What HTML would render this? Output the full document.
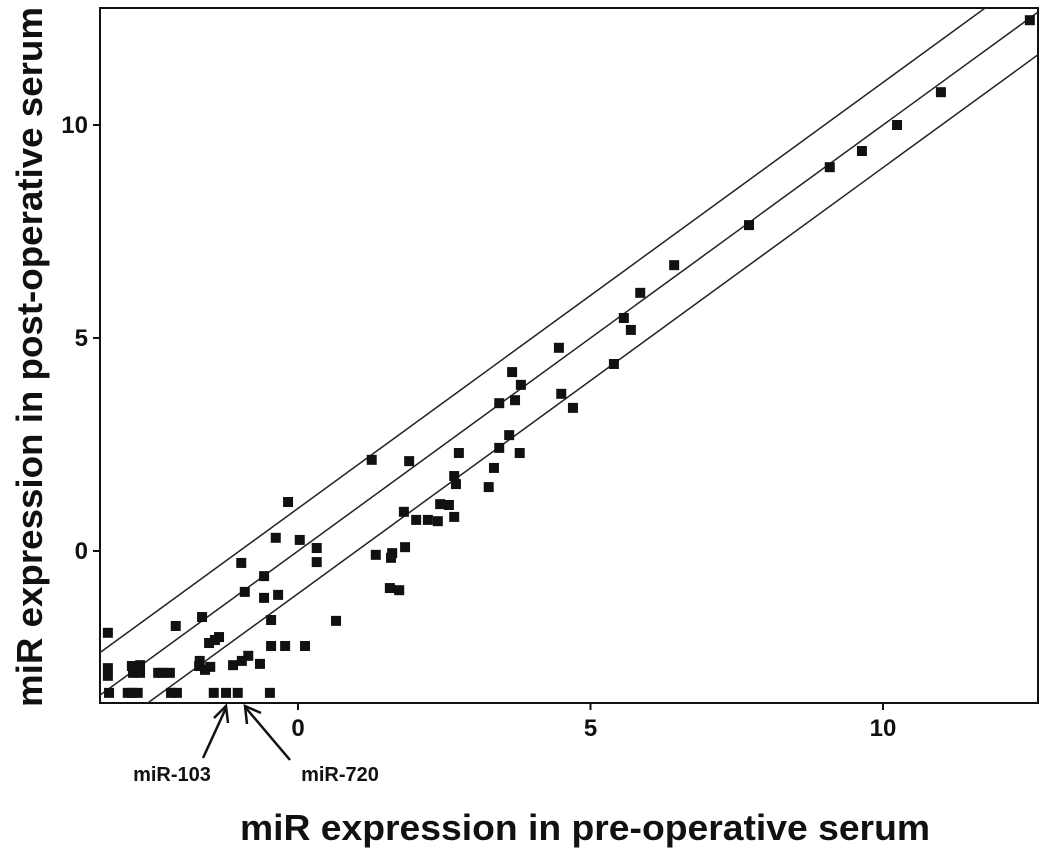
<!DOCTYPE html>
<html><head><meta charset="utf-8"><style>
html,body{margin:0;padding:0;background:#fff;}
svg text{font-family:"Liberation Sans",Arial,sans-serif;font-weight:bold;fill:#111;}
</style></head><body>
<svg id="chart" width="1049" height="850" viewBox="0 0 1049 850" xmlns="http://www.w3.org/2000/svg">
<rect x="100" y="8" width="938" height="695" fill="#fff" stroke="#111" stroke-width="2"/>
<g id="lines"></g>
<g id="points"></g>
<g id="ticks"></g>
<text transform="translate(42,357) rotate(-90)" text-anchor="middle" font-size="36" textLength="700" lengthAdjust="spacingAndGlyphs">miR expression in post-operative serum</text>
<text x="585" y="840" text-anchor="middle" font-size="36" textLength="690" lengthAdjust="spacingAndGlyphs">miR expression in pre-operative serum</text>
<text x="172" y="781" text-anchor="middle" font-size="20">miR-103</text>
<text x="340" y="781" text-anchor="middle" font-size="20">miR-720</text>
<g stroke="#111" stroke-width="2.5" fill="none">
<line x1="203" y1="758" x2="226" y2="708"/><polyline points="214,718 226,706 228,723"/>
</g>
<g stroke="#111" stroke-width="2.5" fill="none">
<line x1="290" y1="760" x2="246" y2="708"/><polyline points="247,724 245,706 261,713"/>
</g>
</svg>
<script>
const xs=[12.51,10.99,10.24,9.64,9.09,7.71,6.43,5.85,5.57,5.69,4.46,5.40,4.50,4.70,3.66,3.81,3.71,3.44,3.61,3.44,3.79,3.35,3.26,2.75,2.67,2.70,2.67,2.58,2.43,2.39,2.22,2.02,1.90,1.81,1.83,1.61,1.59,1.57,1.73,1.33,1.26,0.65,0.32,0.32,0.03,0.12,-0.17,-0.38,-0.34,-0.22,-0.46,-0.46,-0.58,-0.58,-0.65,-0.48,-0.91,-0.85,-0.96,-0.97,-1.03,-1.23,-1.44,-1.11,-1.35,-1.42,-1.52,-1.50,-1.59,-1.64,-1.68,-1.69,-2.09,-2.07,-2.17,-2.19,-2.32,-2.39,-2.70,-2.70,-2.74,-2.84,-2.91,-2.82,-2.84,-3.23,-3.25,-3.25,-3.25];
const ys=[12.46,10.77,10.0,9.39,9.01,7.65,6.71,6.06,5.47,5.19,4.77,4.39,3.69,3.36,4.20,3.90,3.54,3.47,2.72,2.42,2.30,1.95,1.50,2.30,1.76,1.57,0.80,1.08,1.10,0.70,0.73,0.73,2.11,0.92,0.09,-0.05,-0.16,-0.87,-0.92,-0.09,2.14,-1.64,0.07,-0.26,0.26,-2.23,1.15,0.31,-1.03,-2.23,-2.23,-1.62,-0.59,-1.10,-2.65,-3.33,-0.96,-2.46,-2.58,-0.28,-3.33,-3.33,-3.33,-2.68,-2.02,-2.09,-2.16,-2.72,-2.79,-1.55,-2.58,-2.70,-1.76,-3.33,-3.33,-2.86,-2.86,-2.86,-2.68,-2.86,-3.33,-3.33,-3.33,-2.86,-2.70,-3.33,-2.93,-2.75,-1.92];
const xTicks=[0,5,10];
const yTicks=[0,5,10];
const lineOffsets=[1,0,-1];
const NS="http://www.w3.org/2000/svg";
const L=100,R=1038,T=8,B=703;
function sx(v){return 298+v*58.5;}
function sy(v){return 551-v*42.6;}
const x0=(L-298)/58.5,x1=(R-298)/58.5;
const lg=document.getElementById('lines');
const cp=document.createElementNS(NS,'clipPath');cp.id='clip';
const cr=document.createElementNS(NS,'rect');cr.setAttribute('x',L);cr.setAttribute('y',T);cr.setAttribute('width',R-L);cr.setAttribute('height',B-T);
cp.appendChild(cr);document.getElementById('chart').appendChild(cp);
lg.setAttribute('clip-path','url(#clip)');
lineOffsets.forEach((o,i)=>{
 const l=document.createElementNS(NS,'line');
 
 
 l.setAttribute('x1',sx(x0));l.setAttribute('y1',sy(x0+o));
 l.setAttribute('x2',sx(x1));l.setAttribute('y2',sy(x1+o));
 l.setAttribute('stroke','#222');l.setAttribute('stroke-width','1.5');
 lg.appendChild(l);
});
const pg=document.getElementById('points');
xs.forEach((x,i)=>{
 const r=document.createElementNS(NS,'rect');
 
 
 r.setAttribute('x',sx(x)-5);r.setAttribute('y',sy(ys[i])-5);
 r.setAttribute('width',10);r.setAttribute('height',10);r.setAttribute('fill','#111');
 pg.appendChild(r);
});
const tg=document.getElementById('ticks');
xTicks.forEach(v=>{
 const l=document.createElementNS(NS,'line');
 
 
 l.setAttribute('x1',sx(v));l.setAttribute('x2',sx(v));l.setAttribute('y1',B);l.setAttribute('y2',B+7);l.setAttribute('stroke','#111');l.setAttribute('stroke-width','2');
 tg.appendChild(l);
 const t=document.createElementNS(NS,'text');
 
 
 t.setAttribute('x',sx(v));t.setAttribute('y',B+33);t.setAttribute('text-anchor','middle');t.setAttribute('font-size','24');
 t.textContent=v;tg.appendChild(t);
});
yTicks.forEach(v=>{
 const l=document.createElementNS(NS,'line');
 
 
 l.setAttribute('x1',L-7);l.setAttribute('x2',L);l.setAttribute('y1',sy(v));l.setAttribute('y2',sy(v));l.setAttribute('stroke','#111');l.setAttribute('stroke-width','2');
 tg.appendChild(l);
 const t=document.createElementNS(NS,'text');
 
 
 t.setAttribute('x',L-12);t.setAttribute('y',sy(v)+8);t.setAttribute('text-anchor','end');t.setAttribute('font-size','24');
 t.textContent=v;tg.appendChild(t);
});
</script>
</body></html>
